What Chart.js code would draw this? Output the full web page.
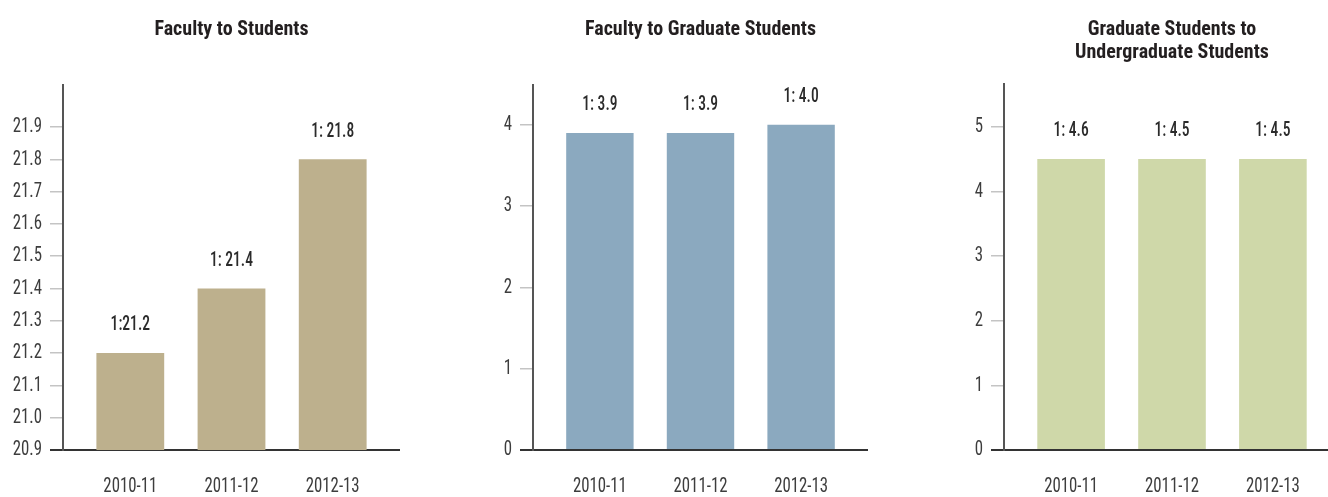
<!DOCTYPE html>
<html>
<head>
<meta charset="utf-8">
<script src="https://cdn.jsdelivr.net/npm/chart.js@4"></script>
<style>
  html, body { margin: 0; padding: 0; background: #fff; overflow: hidden; }
  body { width: 1328px; height: 497px; position: relative; }
  .box { position: absolute; top: 0; height: 497px; }
</style>
</head>
<body>
<div class="box" style="left:0px;width:400px"><canvas id="c1"></canvas></div>
<div class="box" style="left:470px;width:398px"><canvas id="c2"></canvas></div>
<div class="box" style="left:941px;width:399px"><canvas id="c3"></canvas></div>
<script>
// dados
const years = ['2010-11', '2011-12', '2012-13']

const facultyStudents = [21.2, 21.4, 21.8]
const facultyStudentsLabels = ['1:21.2', '1: 21.4', '1: 21.8']
const facultyStudentsTicks = [20.9, 21.0, 21.1, 21.2, 21.3, 21.4, 21.5, 21.6, 21.7, 21.8, 21.9]

const facultyGrad = [3.9, 3.9, 4.0]
const facultyGradLabels = ['1: 3.9', '1: 3.9', '1: 4.0']
const facultyGradTicks = [0, 1, 2, 3, 4]

const gradUndergrad = [4.5, 4.5, 4.5]
const gradUndergradLabels = ['1: 4.6', '1: 4.5', '1: 4.5']
const gradUndergradTicks = [0, 1, 2, 3, 4, 5]

const FONT = "'Roboto Condensed', 'Roboto', sans-serif"

// texto mais estreito (a fonte original é condensada)
const condensed = {
    id: 'condensed',
    beforeDraw(chart) {
        const ctx = chart.ctx
        if (ctx._condensed) return
        const orig = ctx.fillText.bind(ctx)
        ctx.fillText = function (text, x, y) {
            let k = 0.8
            if (/bold/.test(this.font)) k = 1
            else if (/500/.test(this.font)) k = 0.74
            this.save()
            this.translate(x, y)
            this.scale(k, 1)
            orig(text, 0, 0)
            this.restore()
        }
        ctx._condensed = true
    }
}

// rótulos em cima das barras
const barLabels = {
    id: 'barLabels',
    afterDatasetsDraw(chart, args, opts) {
        const ctx = chart.ctx
        const meta = chart.getDatasetMeta(0)
        ctx.save()
        ctx.font = '500 21px ' + FONT
        ctx.fillStyle = '#2b2b2b'
        ctx.textAlign = 'center'
        ctx.textBaseline = 'middle'
        meta.data.forEach((bar, i) => {
            ctx.fillText(opts.texts[i], bar.x, bar.y - 28)
        })
        ctx.restore()
    }
}

function makeChart(id, title, values, texts, yTicks, yMin, yMax, color, decimals, titlePad) {
    const ctx = document.getElementById(id).getContext('2d')
    return new Chart(ctx, {
        type: 'bar',
        data: {
            datasets: [{
                data: values.map((v, i) => ({ x: i, y: v })),
                backgroundColor: color,
                barPercentage: 0.67,
                categoryPercentage: 1
            }]
        },
        options: {
            responsive: true,
            maintainAspectRatio: false,
            animation: false,
            layout: { padding: 0 },
            plugins: {
                legend: { display: false },
                tooltip: { enabled: false },
                title: {
                    display: true,
                    text: title,
                    fullSize: false,
                    color: '#231f20',
                    font: { family: FONT, size: 20, weight: 'bold', lineHeight: 1.15 },
                    padding: titlePad
                },
                barLabels: { texts: texts }
            },
            scales: {
                x: {
                    type: 'linear',
                    offset: false,
                    min: -0.665,
                    max: 2.665,
                    grid: { display: false, drawTicks: false },
                    border: { display: true, color: '#333', width: 2 },
                    afterBuildTicks: s => { s.ticks = years.map((y, i) => ({ value: i })) },
                    afterFit: s => { s.height = 47 },
                    ticks: {
                        padding: 24,
                        autoSkip: false,
                        maxRotation: 0,
                        color: '#3d3d3d',
                        font: { family: FONT, size: 21 },
                        callback: v => years[v]
                    }
                },
                y: {
                    min: yMin,
                    max: yMax,
                    grid: {
                        drawOnChartArea: false,
                        drawTicks: true,
                        tickLength: 13,
                        color: c => c.index === 0 ? '#333' : '#c4c4c4',
                        lineWidth: c => c.index === 0 ? 2 : 1.5
                    },
                    border: { display: true, color: '#555', width: 2 },
                    afterBuildTicks: s => { s.ticks = yTicks.map(v => ({ value: v })) },
                    afterFit: s => { s.width = 63 },
                    ticks: {
                        padding: 8,
                        color: '#3d3d3d',
                        font: { family: FONT, size: 21 },
                        callback: v => v.toFixed(decimals)
                    }
                }
            }
        },
        plugins: [condensed, barLabels]
    })
}

makeChart('c1', 'Faculty to Students', facultyStudents, facultyStudentsLabels,
    facultyStudentsTicks, 20.9, 22.03, '#bdb08d', 1, { top: 18, bottom: 44 })
makeChart('c2', 'Faculty to Graduate Students', facultyGrad, facultyGradLabels,
    facultyGradTicks, 0, 4.49, '#8ba9bf', 0, { top: 18, bottom: 44 })
makeChart('c3', ['Graduate Students to', 'Undergraduate Students'], gradUndergrad, gradUndergradLabels,
    gradUndergradTicks, 0, 5.66, '#cfd8a9', 0, { top: 18, bottom: 20 })
</script>
</body>
</html>
